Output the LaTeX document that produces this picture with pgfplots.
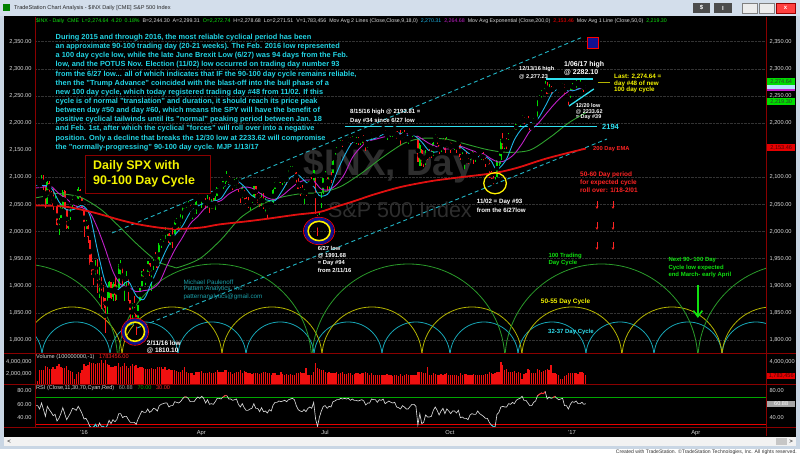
\documentclass[border=0pt]{standalone}
\usepackage{pgfplots}
\pgfplotsset{compat=1.18}
\usepackage{pgfplotstable}
\usepackage{fontspec}
\setmainfont{Liberation Sans}
\usetikzlibrary{arrows.meta}
\newcommand\fs[1]{\fontsize{#1}{#1}\selectfont}
\definecolor{bord}{HTML}{8A0000}
\definecolor{lblc}{HTML}{D8D8D8}
\definecolor{upc}{HTML}{00DC00}
\definecolor{dnc}{HTML}{FF1C1C}
\definecolor{ma9}{HTML}{1EB4E6}
\definecolor{ma18}{HTML}{C020C8}
\definecolor{ma50}{HTML}{2EA02E}
\definecolor{ema}{HTML}{E01010}
\definecolor{paracyan}{HTML}{22D4E4}
\definecolor{teal2}{HTML}{1A9EA8}
\definecolor{arcc}{HTML}{17A5B5}
\definecolor{arcy}{HTML}{B4B400}
\definecolor{arcg}{HTML}{2A9A2A}
\definecolor{chan}{HTML}{22B4C4}
\definecolor{brcyan}{HTML}{30E0F0}
\definecolor{ylw}{HTML}{F4F400}
\definecolor{hgreen}{HTML}{10E010}
\definecolor{txtred}{HTML}{FF2424}
\definecolor{wm}{HTML}{2E2E2E}
\definecolor{titlebg}{HTML}{D3DEEB}
\definecolor{framec}{HTML}{C9D6E4}
\definecolor{volred}{HTML}{F01010}
\definecolor{navyb}{HTML}{101090}
\definecolor{rsicyan}{HTML}{20D0E0}

\pgfplotstableread{
i o h l c v r
-25 2089 2093 2086 2089 1.6 58
-24 2089 2094 2085 2090 0.9 58
-23 2090 2094 2080 2080 2.6 53
-22 2083 2104 2083 2103 2.6 62
-21 2101 2104 2077 2080 2.7 52
-20 2081 2086 2044 2050 3.3 42
-19 2051 2093 2051 2092 3.1 57
-18 2090 2094 2068 2077 2.8 52
-17 2073 2075 2053 2064 2.8 48
-16 2063 2081 2040 2048 3.2 43
-15 2048 2066 2047 2052 2.8 45
-14 2047 2047 2009 2012 3.3 35
-13 2014 2024 1993 2022 3.6 39
-12 2025 2053 2025 2043 3.2 46
-11 2046 2077 2042 2073 3.0 55
-10 2074 2076 2041 2042 3.0 46
-9 2041 2041 2005 2006 3.4 37
-8 2011 2023 2005 2021 2.6 42
-7 2023 2042 2021 2039 2.5 47
-6 2043 2065 2043 2064 2.4 54
-5 2063 2067 2058 2061 1.2 53
-4 2058 2058 2046 2057 2.0 51
-3 2060 2082 2060 2078 2.3 57
-2 2077 2078 2063 2063 2.2 52
-1 2061 2062 2043 2044 2.7 46
0 2038 2038 1989 2013 3.7 38
1 2013 2022 2005 2017 3.3 39
2 2011 2012 1979 1990 3.5 34
3 1985 1985 1938 1943 4.0 27
4 1946 1961 1919 1922 3.9 25
5 1926 1935 1902 1924 3.8 26
6 1927 1947 1917 1939 3.6 30
7 1940 1950 1886 1890 3.8 24
8 1892 1934 1878 1922 3.9 32
9 1917 1917 1857 1880 4.3 27
10 1886 1902 1864 1881 3.8 27
11 1877 1877 1812 1859 4.3 24
12 1862 1889 1848 1869 3.7 28
13 1877 1909 1877 1907 3.5 36
14 1906 1906 1875 1877 3.1 31
15 1879 1906 1872 1904 3.2 37
16 1903 1917 1872 1883 3.3 34
17 1885 1902 1873 1893 3.3 37
18 1895 1940 1895 1940 3.8 46
19 1936 1947 1920 1939 3.1 46
20 1935 1935 1897 1903 3.4 40
21 1908 1918 1872 1913 3.8 42
22 1912 1927 1900 1915 3.3 42
23 1913 1913 1872 1880 3.0 37
24 1874 1874 1829 1853 3.4 33
25 1848 1868 1834 1852 3.6 33
26 1858 1881 1848 1852 3.3 33
27 1847 1847 1810 1829 3.5 30
28 1834 1865 1834 1865 3.0 38
29 1872 1896 1872 1896 3.1 44
30 1899 1927 1899 1927 3.2 50
31 1928 1930 1915 1918 3.0 48
32 1917 1918 1901 1918 2.8 48
33 1925 1946 1925 1946 2.8 53
34 1942 1942 1918 1921 2.8 48
35 1916 1932 1891 1930 3.0 50
36 1932 1952 1929 1952 2.8 54
37 1955 1963 1945 1948 2.9 53
38 1947 1958 1932 1932 3.1 50
39 1937 1978 1937 1978 3.2 58
40 1976 1986 1969 1986 3.1 60
41 1986 1993 1981 1993 2.9 61
42 1994 2009 1987 2000 3.2 62
43 1997 2007 1992 2002 2.6 62
44 1997 1997 1978 1979 2.8 56
45 1978 1993 1976 1989 2.6 58
46 1991 2009 1969 1990 2.7 58
47 1995 2022 1995 2022 2.6 64
48 2019 2025 2013 2020 2.5 63
49 2015 2020 2005 2016 2.3 62
50 2016 2032 2011 2027 2.3 64
51 2027 2046 2023 2041 2.6 68
52 2042 2052 2042 2050 3.2 71
53 2048 2054 2044 2052 2.3 71
54 2048 2056 2043 2050 2.1 69
55 2049 2049 2034 2037 2.1 64
56 2032 2036 2023 2036 2.1 64
57 2037 2043 2032 2037 1.8 64
58 2035 2056 2033 2055 2.3 68
59 2059 2072 2058 2064 2.3 71
60 2063 2067 2058 2060 2.4 69
61 2057 2075 2043 2073 2.5 72
62 2073 2074 2063 2066 2.1 69
63 2062 2062 2042 2045 2.2 62
64 2045 2068 2043 2067 2.1 67
65 2063 2063 2034 2042 2.3 60
66 2045 2060 2042 2048 2.1 61
67 2050 2062 2041 2042 2.2 60
68 2043 2065 2039 2062 2.4 64
69 2066 2084 2066 2082 2.6 69
70 2082 2088 2079 2083 2.3 69
71 2083 2084 2076 2081 2.3 68
72 2079 2095 2078 2094 2.4 71
73 2096 2104 2088 2101 2.6 73
74 2102 2112 2091 2102 2.7 73
75 2102 2103 2089 2091 2.4 68
76 2092 2095 2085 2092 2.4 68
77 2090 2090 2077 2088 2.0 66
78 2089 2096 2083 2092 2.1 67
79 2091 2099 2081 2095 2.4 68
80 2090 2094 2073 2076 2.4 60
81 2073 2077 2053 2065 2.6 56
82 2068 2084 2062 2081 2.1 61
83 2077 2077 2054 2063 2.5 55
84 2061 2063 2049 2051 2.3 51
85 2053 2063 2044 2051 2.1 51
86 2047 2058 2039 2057 2.2 53
87 2057 2068 2053 2059 2.0 54
88 2062 2084 2062 2084 2.1 61
89 2083 2083 2064 2064 2.1 54
90 2067 2073 2053 2064 2.1 54
91 2063 2067 2045 2047 2.0 49
92 2047 2071 2047 2067 2.1 55
93 2066 2071 2041 2047 2.4 49
94 2045 2061 2035 2048 2.4 50
95 2045 2045 2025 2040 2.2 47
96 2041 2059 2041 2052 2.2 52
97 2053 2055 2047 2048 1.9 50
98 2053 2079 2053 2076 2.2 59
99 2079 2094 2079 2091 2.2 63
100 2091 2092 2085 2090 1.9 63
101 2091 2099 2090 2099 1.8 65
102 2100 2103 2089 2097 2.4 64
103 2095 2101 2086 2099 2.0 65
104 2098 2105 2089 2105 1.9 66
105 2104 2104 2086 2099 2.0 64
106 2100 2113 2098 2109 1.9 67
107 2111 2120 2111 2112 2.0 68
108 2112 2120 2110 2119 1.9 69
109 2115 2117 2107 2115 1.9 67
110 2109 2109 2090 2096 2.1 58
111 2091 2098 2078 2079 2.2 52
112 2077 2082 2065 2075 2.4 50
113 2077 2085 2069 2072 2.1 49
114 2066 2079 2050 2078 2.2 52
115 2075 2077 2065 2071 3.0 49
116 2076 2093 2076 2083 1.9 54
117 2085 2094 2083 2089 1.8 56
118 2089 2100 2085 2085 1.8 54
119 2093 2113 2093 2113 2.3 63
120 2098 2098 2033 2037 3.8 38
121 2031 2031 1992 2001 3.0 27
122 2017 2036 2017 2036 2.8 41
123 2043 2071 2043 2071 2.6 50
124 2073 2099 2070 2099 2.7 57
125 2099 2111 2099 2103 2.3 58
126 2096 2100 2075 2089 2.2 54
127 2084 2100 2074 2100 2.4 57
128 2100 2110 2089 2098 2.2 56
129 2107 2131 2107 2130 2.2 64
130 2132 2144 2132 2137 2.1 65
131 2144 2156 2144 2152 2.4 67
132 2155 2156 2146 2152 2.0 67
133 2158 2169 2158 2164 2.2 69
134 2165 2169 2156 2162 2.4 68
135 2163 2169 2159 2167 2.0 69
136 2163 2164 2159 2164 2.0 68
137 2166 2175 2163 2173 2.1 69
138 2172 2175 2159 2165 2.2 66
139 2167 2176 2163 2175 1.9 68
140 2173 2173 2163 2168 2.0 66
141 2168 2174 2161 2169 2.1 66
142 2170 2174 2159 2167 2.1 65
143 2166 2173 2160 2170 2.0 66
144 2169 2177 2164 2174 2.1 67
145 2174 2178 2160 2171 2.2 65
146 2169 2169 2149 2157 2.3 59
147 2156 2164 2154 2164 2.1 62
148 2163 2168 2159 2164 1.9 62
149 2169 2183 2169 2183 2.1 68
150 2183 2185 2177 2181 1.8 67
151 2182 2188 2178 2182 1.9 67
152 2183 2183 2171 2175 1.8 63
153 2178 2186 2178 2186 1.9 67
154 2183 2186 2180 2184 1.8 66
155 2187 2194 2187 2190 1.8 68
156 2186 2187 2178 2178 1.9 61
157 2178 2183 2169 2182 2.0 63
158 2181 2188 2180 2187 1.8 65
159 2184 2185 2175 2184 1.8 63
160 2182 2185 2175 2183 1.7 62
161 2187 2195 2186 2187 1.9 63
162 2185 2186 2171 2175 1.8 56
163 2174 2178 2170 2172 1.7 55
164 2175 2188 2160 2169 2.0 53
165 2171 2183 2170 2180 1.7 58
166 2180 2187 2172 2176 1.9 56
167 2175 2175 2165 2171 2.0 53
168 2171 2174 2162 2171 1.9 53
169 2177 2185 2176 2180 1.8 57
170 2181 2186 2174 2186 1.8 60
171 2186 2188 2180 2186 1.8 60
172 2183 2185 2175 2181 1.8 57
173 2170 2170 2128 2128 2.4 29
174 2120 2163 2120 2159 2.4 46
175 2151 2152 2120 2127 2.4 31
176 2130 2141 2119 2126 2.1 33
177 2125 2151 2122 2147 2.2 44
178 2146 2146 2131 2139 3.2 41
179 2144 2153 2136 2139 1.8 41
180 2145 2150 2136 2140 1.8 42
181 2145 2165 2139 2163 2.1 51
182 2170 2180 2170 2177 2.0 56
183 2173 2174 2162 2165 1.8 51
184 2159 2159 2142 2146 1.8 44
185 2152 2161 2146 2160 2.0 50
186 2161 2172 2152 2171 1.9 54
187 2169 2172 2145 2151 2.0 46
188 2156 2175 2156 2168 2.2 53
189 2164 2164 2154 2161 1.8 50
190 2164 2165 2144 2150 1.9 46
191 2155 2164 2154 2160 1.8 50
192 2159 2163 2150 2161 1.8 50
193 2160 2165 2145 2154 1.9 47
194 2161 2169 2160 2164 1.7 51
195 2161 2162 2132 2137 2.2 40
196 2137 2146 2131 2139 1.8 41
197 2130 2139 2115 2133 2.0 39
198 2139 2149 2129 2133 2.0 39
199 2133 2135 2125 2127 1.8 37
200 2136 2145 2132 2140 1.9 44
201 2140 2148 2136 2144 1.9 46
202 2142 2147 2125 2141 2.0 45
203 2137 2143 2129 2141 1.9 45
204 2149 2154 2146 2151 1.9 50
205 2149 2151 2140 2143 1.8 46
206 2136 2145 2131 2139 1.9 44
207 2143 2147 2128 2133 1.8 42
208 2132 2140 2119 2126 2.0 39
209 2129 2133 2125 2126 2.0 39
210 2128 2132 2098 2112 2.3 33
211 2109 2112 2097 2098 2.2 29
212 2098 2102 2085 2089 2.0 27
213 2084 2100 2084 2085 2.1 26
214 2101 2133 2101 2132 2.4 45
215 2132 2146 2121 2140 2.3 48
216 2131 2170 2125 2163 4.0 56
217 2168 2182 2152 2167 3.5 57
218 2163 2165 2152 2164 2.7 56
219 2168 2172 2152 2164 2.8 56
220 2169 2182 2168 2180 2.4 61
221 2176 2179 2173 2177 2.3 60
222 2178 2188 2176 2187 2.3 63
223 2186 2190 2179 2182 2.5 61
224 2187 2198 2187 2198 2.2 66
225 2202 2204 2196 2203 2.3 68
226 2198 2205 2195 2205 2.1 69
227 2206 2214 2206 2213 1.2 72
228 2210 2212 2199 2202 2.0 66
229 2201 2210 2199 2205 2.2 66
230 2205 2213 2198 2199 2.8 62
231 2201 2203 2187 2191 2.6 58
232 2191 2198 2188 2192 2.2 58
233 2201 2209 2199 2205 2.2 63
234 2208 2212 2201 2212 2.2 65
235 2213 2242 2209 2241 2.9 73
236 2242 2252 2240 2246 2.7 75
237 2249 2260 2247 2259 2.4 77
238 2257 2259 2250 2257 2.5 76
239 2263 2277 2260 2272 2.6 79
240 2268 2276 2253 2253 2.8 68
241 2254 2272 2253 2262 2.6 71
242 2266 2268 2254 2258 3.5 69
243 2259 2267 2257 2263 2.2 70
244 2266 2274 2266 2271 2.1 72
245 2270 2272 2264 2265 2.0 69
246 2264 2264 2256 2261 1.9 67
247 2261 2264 2260 2264 1.2 68
248 2266 2273 2266 2269 1.2 69
249 2271 2272 2249 2250 1.7 58
250 2250 2254 2245 2249 1.8 58
251 2251 2253 2234 2239 2.1 53
252 2251 2264 2246 2258 2.2 60
253 2261 2273 2261 2271 2.2 64
254 2268 2270 2260 2269 2.1 63
255 2271 2282 2264 2277 2.2 65
256 2274 2275 2268 2269 2.0 61
257 2268 2279 2266 2269 2.3 61
258 2269 2275 2260 2275 2.4 63
259 2272 2272 2258 2270 2.2 60
260 2273 2279 2272 2275 1.8 61
}\spx

\pgfplotsset{
 tsbase/.style={scale only axis, width=731bp, xmin=-25.4, xmax=353.4,
   axis line style={draw=none}, xtick=\empty, major tick length=0pt, minor tick length=0pt,
   scaled y ticks=false, tick label style={font=\fs{5.7}, text=lblc},
   /pgf/number format/assume math mode=true},
 mainy/.style={height=336bp, ymin=1776, ymax=2395.5,
   yticklabel style={/pgf/number format/fixed, /pgf/number format/fixed zerofill,
   /pgf/number format/precision=2, /pgf/number format/1000 sep={,}}},
 voly/.style={height=31bp, ymin=0.33, ymax=5.5},
 rsiy/.style={height=43bp, ymin=26, ymax=90.5,
   yticklabel style={/pgf/number format/fixed, /pgf/number format/fixed zerofill, /pgf/number format/precision=2}},
}
\newcommand\hump[5]{\draw[#5] (axis cs:{#1-#3},#2) .. controls (axis cs:{#1-#3},{#2+0.5523*#4}) and (axis cs:{#1-0.5523*#3},{#2+#4}) .. (axis cs:#1,{#2+#4}) .. controls (axis cs:{#1+0.5523*#3},{#2+#4}) and (axis cs:{#1+#3},{#2+0.5523*#4}) .. (axis cs:{#1+#3},#2);}
\newcommand\lbl[4]{\node[anchor=west, inner sep=0, text=#3, font=\bfseries\fs{#4}] at (#1,#2)}
\newcommand\tagbox[4]{\node[fill=#2, text=#3, font=\fs{5.6}, inner sep=0.5bp, minimum width=28bp, minimum height=6.6bp, anchor=west] at (767,#1) {#4};}
\tikzset{rarr/.style={txtred, line width=0.6bp, -{Stealth[length=2.8bp,width=2.6bp]}}}

\begin{document}
\begin{tikzpicture}
\begin{scope}[x=1bp,y=-1bp]
\useasboundingbox (0,0) rectangle (800,456);
\fill[black] (0,0) rectangle (800,456);
% watermark
\node[text=wm, font=\bfseries\fs{37}, inner sep=0] at (389,166) {\$INX, Day};
\node[text=wm, font=\fs{21.6}, inner sep=0] at (400,210) {S\&P 500 Index};
\end{scope}

% ---------- main price panel
\begin{axis}[tsbase, mainy, at={(35bp,-17bp)}, anchor=north west, yticklabel pos=right,
  ytick={1800,1850,1900,1950,2000,2050,2100,2200,2250,2300,2350},
  ymajorgrids, grid style={densely dotted, draw=gray!40!black, line width=0.4bp}]
% cycle arcs
\pgfplotsinvokeforeach{-39.4,-4.15,31.1,66.3,101.6,136.8,172.0,207.3,242.5,277.7,313.0,348.2}{\hump{#1}{1770.5}{17.6}{62.7}{arcc, line width=0.8bp}}
\pgfplotsinvokeforeach{-6.2,45.6,97.4,149.2,201.0,252.8,304.7,356.5}{\hump{#1}{1768.7}{25.9}{92.2}{arcy, line width=0.8bp}}
\pgfplotsinvokeforeach{-32.6,67.9,168.1,268.1,368.1}{\hump{#1}{1761.3}{50}{178.8}{arcg, line width=0.8bp}}
% channel lines
\draw[chan, line width=0.9bp, dash pattern=on 4bp off 3bp] (axis cs:14.5,1997.3) -- (axis cs:258.5,2358.6);
\draw[chan, line width=0.9bp, dash pattern=on 4bp off 3bp] (axis cs:27.5,1822) -- (axis cs:271,2170.6);
% candles
\addplot[only marks, mark=none, restrict expr to domain={\thisrow{c}-\thisrow{o}}{0:2000},
  error bars/.cd, y dir=both, y explicit, error mark=none, error bar style={draw=upc, line width=0.75bp}]
  table[x=i, y expr={(\thisrow{h}+\thisrow{l})/2}, y error expr={(\thisrow{h}-\thisrow{l})/2}] {\spx};
\addplot[only marks, mark=none, restrict expr to domain={\thisrow{c}-\thisrow{o}}{-2000:-0.01},
  error bars/.cd, y dir=both, y explicit, error mark=none, error bar style={draw=dnc, line width=0.75bp}]
  table[x=i, y expr={(\thisrow{h}+\thisrow{l})/2}, y error expr={(\thisrow{h}-\thisrow{l})/2}] {\spx};
\addplot[only marks, mark=none, restrict expr to domain={\thisrow{c}-\thisrow{o}}{0:2000},
  error bars/.cd, y dir=both, y explicit, error mark=none, error bar style={draw=upc, line width=1.75bp}]
  table[x=i, y expr={(\thisrow{o}+\thisrow{c})/2}, y error expr={max(abs(\thisrow{c}-\thisrow{o})/2,0.8)}] {\spx};
\addplot[only marks, mark=none, restrict expr to domain={\thisrow{c}-\thisrow{o}}{-2000:-0.01},
  error bars/.cd, y dir=both, y explicit, error mark=none, error bar style={draw=dnc, line width=1.75bp}]
  table[x=i, y expr={(\thisrow{o}+\thisrow{c})/2}, y error expr={max(abs(\thisrow{c}-\thisrow{o})/2,0.8)}] {\spx};
% moving averages
\addplot[ma50, line width=0.9bp, smooth, tension=0.5, mark=none] coordinates {(-25.4,2062)(-22,2064)(-15,2070)(-8,2068)(-1,2062)(9,2040)(18,2010)(28,1975)(38,1945)(46,1935)(49,1934)(60,1950)(71,1985)(81,2025)(92,2050)(102,2063)(113,2070)(123,2072)(133,2083)(144,2108)(154,2135)(166,2163)(176,2172)(188,2170)(198,2161)(209,2151)(219,2146)(231,2150)(242,2175)(251,2200)(260,2219)};
\addplot[ma18, line width=0.9bp, smooth, tension=0.5, mark=none] coordinates {(-25.4,2080)(-21,2082)(-17,2083)(-13,2070)(-9,2060)(-5,2048)(-1,2044)(3,2035)(7,2006)(11,1968)(15,1926)(19,1902)(23,1898)(27,1889)(31,1891)(35,1894)(39,1906)(43,1937)(47,1966)(51,1989)(55,2014)(59,2028)(63,2044)(67,2052)(71,2057)(75,2069)(79,2077)(83,2082)(87,2080)(91,2071)(95,2062)(99,2059)(103,2067)(107,2079)(111,2090)(115,2095)(119,2093)(123,2078)(127,2077)(131,2087)(135,2106)(139,2136)(143,2154)(147,2166)(151,2170)(155,2174)(159,2177)(163,2180)(167,2180)(171,2179)(175,2171)(179,2162)(183,2156)(187,2152)(191,2153)(195,2157)(199,2152)(203,2147)(207,2143)(211,2134)(215,2128)(219,2132)(223,2143)(227,2162)(231,2185)(235,2198)(239,2215)(243,2232)(247,2247)(251,2258)(255,2262)(260,2265)};
\addplot[ma9, line width=0.9bp, smooth, tension=0.5, mark=none] coordinates {(-25.4,2085)(-21,2085)(-17,2081)(-13,2055)(-9,2040)(-5,2041)(-1,2048)(3,2030)(7,1965)(11,1907)(15,1888)(19,1897)(23,1908)(27,1882)(31,1875)(35,1906)(39,1938)(43,1969)(47,1993)(51,2010)(55,2035)(59,2047)(63,2053)(67,2056)(71,2061)(75,2082)(79,2093)(83,2083)(87,2066)(91,2060)(95,2058)(99,2057)(103,2077)(107,2100)(111,2104)(115,2091)(119,2083)(121,2070)(123,2065)(127,2072)(131,2109)(135,2140)(139,2164)(143,2169)(147,2168)(151,2172)(155,2179)(159,2183)(163,2182)(167,2177)(171,2177)(175,2165)(179,2148)(183,2147)(187,2157)(191,2159)(195,2156)(199,2145)(203,2137)(207,2140)(211,2130)(213,2117)(215,2116)(219,2134)(223,2169)(227,2190)(231,2200)(235,2207)(239,2231)(243,2257)(247,2263)(251,2259)(255,2261)(260,2270)};
\addplot[ema, line width=1.8bp, smooth, tension=0.5, mark=none] coordinates {(-25.4,2048)(-10,2046)(5,2035)(19,2021)(30,2012)(45,2005)(60,2007)(70,2013)(85,2019)(96,2024)(110,2031)(122,2036)(130,2045)(140,2056)(150,2068)(164,2082)(180,2093)(195,2100)(213,2108)(225,2118)(240,2135)(260,2153)};
% drawn annotations
\draw[brcyan, line width=1.2bp] (axis cs:135,2194) -- (axis cs:266,2194);
\draw[brcyan, line width=1.2bp] (axis cs:239.4,2281) -- (axis cs:264,2281);
\draw[brcyan, line width=1.3bp] (axis cs:251.3,2231.4) -- (axis cs:264.2,2262.8);
\draw[arcy, line width=0.8bp] (axis cs:266.3,2274) -- (axis cs:272.5,2274);
\draw[fill=navyb, draw=red, line width=0.8bp] (axis cs:260.6,2358.6) rectangle (axis cs:266.3,2338.3);
\draw[rarr] (axis cs:265.8,2056) -- (axis cs:265.8,2041.5);
\draw[rarr] (axis cs:274.1,2056) -- (axis cs:274.1,2041.5);
\draw[rarr] (axis cs:265.8,2017.5) -- (axis cs:265.8,2003);
\draw[rarr] (axis cs:274.1,2017.5) -- (axis cs:274.1,2003);
\draw[rarr] (axis cs:265.8,1980.7) -- (axis cs:265.8,1966);
\draw[rarr] (axis cs:274.1,1980.7) -- (axis cs:274.1,1966);
\draw[hgreen, line width=1.6bp, -{Straight Barb[length=6bp,width=9bp]}] (axis cs:318.1,1901.4) -- (axis cs:318.1,1840.6);
% circles at the lows
\addplot[only marks, mark=o, mark size=13.5bp, mark options={draw=red, line width=0.8bp}] coordinates {(26.4,1815.3)};
\addplot[only marks, mark=o, mark size=11.7bp, mark options={draw=navyb, line width=2.8bp}] coordinates {(26.4,1815.3)};
\addplot[only marks, mark=o, mark size=9.6bp, mark options={draw=yellow, line width=1.6bp}] coordinates {(26.4,1815.3)};
\addplot[only marks, mark=o, mark size=15.5bp, mark options={draw=red, line width=0.8bp, yscale=0.88}] coordinates {(121.8,2001)};
\addplot[only marks, mark=o, mark size=13.5bp, mark options={draw=navyb, line width=3bp, yscale=0.88}] coordinates {(121.8,2001)};
\addplot[only marks, mark=o, mark size=11bp, mark options={draw=yellow, line width=1.6bp, yscale=0.88}] coordinates {(121.8,2001)};
\addplot[only marks, mark=o, mark size=11.3bp, mark options={draw=yellow, line width=1.3bp, yscale=0.93}] coordinates {(213,2089)};
\end{axis}
\begin{axis}[tsbase, mainy, at={(35bp,-17bp)}, anchor=north west, yticklabel pos=left, ytick={1800,1850,...,2350}]
\addplot[draw=none] coordinates {(0,2000)};
\end{axis}

% ---------- volume panel
\begin{axis}[tsbase, voly, at={(35bp,-353bp)}, anchor=north west, yticklabel pos=right, ytick={4,7}, yticklabels={{4,000,000},{}}]
\addplot[ycomb, volred, line width=1.3bp, mark=none] table[x=i, y=v] {\spx};
\end{axis}
\begin{axis}[tsbase, voly, at={(35bp,-353bp)}, anchor=north west, yticklabel pos=left, ytick={2,4}, yticklabels={{2,000,000},{4,000,000}}]
\addplot[draw=none] coordinates {(0,2)};
\end{axis}

% ---------- RSI panel
\begin{axis}[tsbase, rsiy, at={(35bp,-384bp)}, anchor=north west, yticklabel pos=right, ytick={40,80},
  xtick={0,60.8,124.9,189.6,252.8,317}, xticklabels={'16,Apr,Jul,Oct,'17,Apr},
  xticklabel style={font=\fs{5.8}, text=lblc}]
\addplot[green!65!black, line width=1bp, mark=none] coordinates {(-25.4,70) (353.4,70)};
\addplot[red!90!black, line width=1bp, mark=none] coordinates {(-25.4,30) (353.4,30)};
\addplot[lblc, line width=0.65bp, mark=none] table[x=i, y=r] {\spx};
\addplot[txtred, line width=0.8bp, mark=none, unbounded coords=jump, restrict y to domain=70:100] table[x=i, y=r] {\spx};
\addplot[rsicyan, line width=0.8bp, mark=none, unbounded coords=jump, restrict y to domain=0:30] table[x=i, y=r] {\spx};
\end{axis}
\begin{axis}[tsbase, rsiy, at={(35bp,-384bp)}, anchor=north west, yticklabel pos=left, ytick={40,60,80}]
\addplot[draw=none] coordinates {(0,50)};
\end{axis}

\begin{scope}[x=1bp,y=-1bp]
% ---------- panel borders
\draw[bord, line width=0.9bp] (35,17) -- (35,427);
\draw[bord, line width=0.9bp] (766,17) -- (766,436);
\foreach \yy in {353,384,427} \draw[bord, line width=0.9bp] (4,\yy) -- (796,\yy);

% ---------- chrome
\fill[framec] (0,0) rectangle (4,456);
\fill[framec] (796,0) rectangle (800,456);
\fill[titlebg] (0,0) rectangle (800,16);
\fill[green!50!black] (3,4) rectangle (10,11);
\node[anchor=west, font=\fs{5.6}, text=black!85, inner sep=0] at (14,8) {TradeStation Chart Analysis - \$INX Daily [CME] S\&P 500 Index};
\fill[gray!60!black] (693,3) rectangle (710,13);
\node[font=\bfseries\fs{6}, text=white, inner sep=0] at (701.5,8) {\$};
\fill[gray!60!black] (714,3) rectangle (732,13);
\node[font=\bfseries\fs{6}, text=white, inner sep=0] at (723,8) {I};
\draw[gray, fill=gray!15] (742,3) rectangle (757,13);
\draw[gray, fill=gray!15] (759,3) rectangle (774,13);
\draw[red!60!black, fill=red!75] (776,3) rectangle (795,13);
\node[font=\bfseries\fs{6}, text=white, inner sep=0] at (785.5,8) {x};
\fill[gray!10] (4,436.5) rectangle (796,446);
\node[font=\fs{6}, text=black, inner sep=0] at (9,441.3) {<};
\node[font=\fs{6}, text=black, inner sep=0] at (791,441.3) {>};
\fill[gray!45] (776,437.5) rectangle (787,445);
\fill[framec] (0,446) rectangle (800,448.5);
\fill[white] (0,448.5) rectangle (800,456);
\node[anchor=east, font=\fs{5.1}, text=black!80, inner sep=0] at (797,452.4) {Created with TradeStation. \textcopyright TradeStation Technologies, Inc. All rights reserved.};

% header line
\node[anchor=west, inner sep=0, font=\fs{5.3}, text=lblc] at (36,21.5) {\textcolor{hgreen}{\$INX - Daily~~CME~~L=2,274.64~~4.20~~0.18\%}~~B=2,244.30~~A=2,299.31~~\textcolor{hgreen}{O=2,272.74}~~H=2,278.68~~Lo=2,271.51~~V=1,783,456~~Mov Avg 2 Lines (Close,Close,9,18,0)~~\textcolor{ma9}{2,270.31}~~\textcolor{ma18}{2,264.68}~~Mov Avg Exponential (Close,200,0)~~\textcolor{red}{2,153.46}~~Mov Avg 1 Line (Close,50,0)~~\textcolor{hgreen}{2,219.30}};
% panel titles
\node[anchor=west, inner sep=0, font=\fs{5.6}, text=lblc] at (36,357.5) {Volume (100000000,-1)~~~\textcolor{txtred}{1783456.00}};
\node[anchor=west, inner sep=0, font=\fs{5.6}, text=lblc] at (36,388.5) {RSI (Close,11,30,70,Cyan,Red)~~~\textcolor{gray!80}{60.88}~~~\textcolor{green!65!black}{70.00}~~~\textcolor{txtred}{30.00}};
% right tags
\tagbox{88}{ma18}{white}{}
\tagbox{86.2}{white!70!cyan}{black}{}
\tagbox{81.7}{upc}{black!80}{2,274.64}
\tagbox{101.7}{upc}{black!80}{2,219.30}
\tagbox{147.7}{red!90!black}{red!30!black}{2,153.46}
\tagbox{376}{red!90!black}{red!30!black}{1,783,456}
\tagbox{404}{gray!70}{white}{60.88}

% ---------- text annotations
\node[anchor=north west, align=left, inner sep=0, text=paracyan, font=\bfseries\fontsize{7.4}{9.17}\selectfont] at (55.5,34) {During 2015 and through 2016, the most reliable cyclical period has been\\
an approximate 90-100 trading day (20-21 weeks). The Feb. 2016 low represented\\
a 100 day cycle low, while the late June Brexit Low (6/27) was 94 days from the Feb.\\
low, and the POTUS Nov. Election (11/02) low occurred on trading day number 93\\
from the 6/27 low... all of which indicates that IF the 90-100 day cycle remains reliable,\\
then the "Trump Advance" coincided with the blast-off into the bull phase of a\\
new 100 day cycle, which today registered trading day \#48 from 11/02. If this\\
cycle is of normal "translation" and duration, it should reach its price peak\\
between day \#50 and day \#60, which means the SPY will have the benefit of\\
positive cyclical tailwinds until its "normal" peaking period between Jan. 18\\
and Feb. 1st, after which the cyclical "forces" will roll over into a negative\\
position. Only a decline that breaks the 12/30 low at 2233.62 will compromise\\
the "normally-progressing" 90-100 day cycle. MJP 1/13/17};
\draw[bord, line width=0.8bp, fill=black] (85,155) rectangle (210,193);
\lbl{93}{166}{ylw}{12.5}{Daily SPX with};
\lbl{93}{181}{ylw}{12.5}{90-100 Day Cycle};
\lbl{350}{112}{white}{6}{8/15/16 high @ 2193.81 =};
\lbl{350}{120.5}{white}{6}{Day \#34 since 6/27 low};
\lbl{519}{69.5}{white}{5.6}{12/13/16 high};
\lbl{519}{76.5}{white}{5.6}{@ 2,277.23};
\lbl{564}{64.5}{white}{7}{1/06/17 high};
\lbl{564}{72.7}{white}{7}{@ 2282.10};
\lbl{614}{76.7}{ylw}{6.3}{Last: 2,274.64 =};
\lbl{614}{83.5}{ylw}{6.3}{day \#48 of new};
\lbl{614}{90.2}{ylw}{6.3}{100 day cycle};
\lbl{575.7}{105.7}{white}{5.5}{12/20 low};
\lbl{575.7}{111.5}{white}{5.5}{@ 2233.62};
\lbl{575.7}{117.5}{white}{5.5}{= Day \#39};
\lbl{602}{127.3}{brcyan}{7.5}{2194};
\lbl{146.7}{343.3}{white}{6.5}{2/11/16 low};
\lbl{146.7}{350.5}{white}{6.5}{@ 1810.10};
\lbl{317.7}{248.3}{white}{5.8}{6/27 low};
\lbl{317.7}{256}{white}{5.8}{@ 1991.68};
\lbl{317.7}{263.3}{white}{5.8}{= Day \#94};
\lbl{317.7}{270.5}{white}{5.8}{from 2/11/16};
\lbl{476.7}{202.3}{white}{6.2}{11/02 = Day \#93};
\lbl{476.7}{210}{white}{6.2}{from the 6/27low};
\lbl{593}{149}{txtred}{5.8}{200 Day EMA};
\lbl{580}{175}{txtred}{6.5}{50-60 Day period};
\lbl{580}{182.7}{txtred}{6.5}{for expected cycle};
\lbl{580}{190.3}{txtred}{6.5}{roll over: 1/18-2/01};
\lbl{548.3}{256}{hgreen}{6}{100 Trading};
\lbl{548.3}{263.3}{hgreen}{6}{Day Cycle};
\lbl{540.7}{301.7}{ylw}{6.5}{50-55 Day Cycle};
\lbl{548}{332.3}{brcyan}{6}{32-37 Day Cycle};
\lbl{668.3}{260}{hgreen}{6}{Next 90- 100 Day};
\lbl{668.3}{267.7}{hgreen}{6}{Cycle low expected};
\lbl{668.3}{275.3}{hgreen}{6}{end March- early April};
\node[anchor=west, inner sep=0, text=teal2, font=\fs{6.3}] at (183.3,282) {Michael Paulenoff};
\node[anchor=west, inner sep=0, text=teal2, font=\fs{6.3}] at (183.3,289.3) {Pattern Analytics, Inc};
\node[anchor=west, inner sep=0, text=teal2, font=\fs{6.3}] at (183.3,296.6) {patternanalytics@gmail.com};
\end{scope}
\end{tikzpicture}
\end{document}
